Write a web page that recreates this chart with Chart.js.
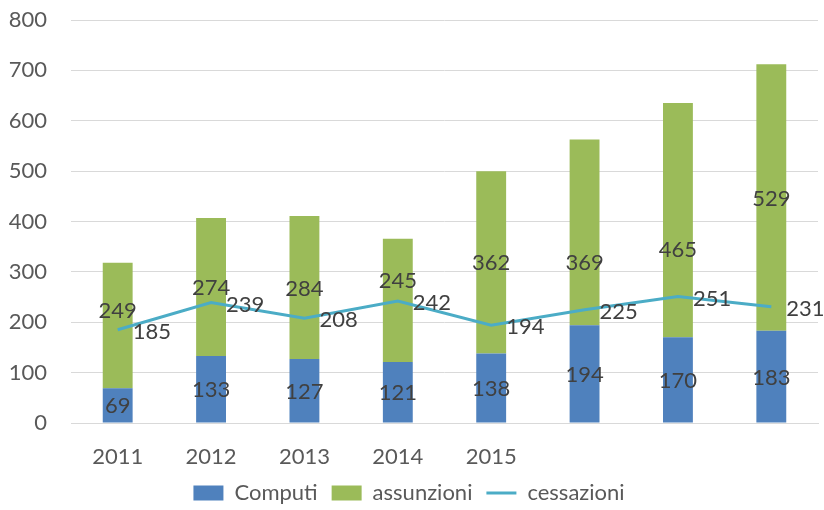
<!DOCTYPE html>
<html>
<head>
<meta charset="utf-8">
<script src="https://cdn.jsdelivr.net/npm/chart.js@4"></script>
<style>
  html, body { margin: 0; padding: 0; background: #fff; }
  #wrap { width: 824px; height: 510px; }
</style>
</head>
<body>
<div id="wrap"><canvas id="chart" width="824" height="510"></canvas></div>
<script>
// Values
const categories = ['2011', '2012', '2013', '2014', '2015', '', '', ''];
const computi = [69, 133, 127, 121, 138, 194, 170, 183];
const assunzioni = [249, 274, 284, 245, 362, 369, 465, 529];
const cessazioni = [185, 239, 208, 242, 194, 225, 251, 231];
const yTicks = [0, 100, 200, 300, 400, 500, 600, 700, 800];

const FONT = 'Lato, "Open Sans", sans-serif';

// Draw the value labels (no datalabels plugin available offline)
const valueLabels = {
    id: 'valueLabels',
    afterDatasetsDraw(chart, args, opts) {
        const ctx = chart.ctx;
        ctx.save();
        ctx.font = '22px ' + FONT;
        ctx.fillStyle = '#404040';
        ctx.textBaseline = 'middle';
        chart.data.datasets.forEach((ds, i) => {
            const meta = chart.getDatasetMeta(i);
            const nudge = (opts.nudge && opts.nudge[i]) || [];
            meta.data.forEach((el, j) => {
                const txt = String(ds.data[j]);
                if (ds.type === 'line') {
                    ctx.textAlign = 'left';
                    ctx.fillText(txt, el.x + 15, el.y + 2);
                } else {
                    ctx.textAlign = 'center';
                    ctx.fillText(txt, el.x, (el.y + el.base) / 2 + 1 + (nudge[j] || 0));
                }
            });
        });
        ctx.restore();
    }
};

// Keep legend spacing between items but make its box shorter
const legendHeight = {
    id: 'legendHeight',
    beforeLayout(chart) {
        const lg = chart.legend;
        if (lg && !lg._fixed) {
            const fit = lg.fit;
            lg.fit = function() { fit.call(this); this.height = 42; };
            lg._fixed = true;
        }
    }
};

new Chart(document.getElementById('chart'), {
    data: {
        labels: categories,
        datasets: [
            {
                type: 'bar',
                label: 'Computi',
                data: computi,
                backgroundColor: '#4f81bd',
                borderWidth: 0,
                pointStyle: 'rect',
                stack: 's',
                order: 1
            },
            {
                type: 'bar',
                label: 'assunzioni',
                data: assunzioni,
                backgroundColor: '#9bbb59',
                borderWidth: 0,
                pointStyle: 'rect',
                stack: 's',
                order: 1
            },
            {
                type: 'line',
                label: 'cessazioni',
                data: cessazioni,
                borderColor: '#4bacc6',
                backgroundColor: '#4bacc6',
                borderWidth: 3,
                pointRadius: 0,
                pointStyle: 'line',
                tension: 0,
                order: 0
            }
        ]
    },
    options: {
        responsive: false,
        animation: false,
        layout: { padding: { top: 20, right: 6, left: 0, bottom: 0 } },
        datasets: {
            bar: { categoryPercentage: 1, barPercentage: 0.32 }
        },
        scales: {
            x: {
                stacked: true,
                afterFit(scale) { scale.height = 45; },
                grid: { display: false, drawTicks: false },
                border: { display: true, color: '#d9d9d9', width: 1 },
                ticks: { color: '#595959', font: { family: FONT, size: 22 }, padding: 21, maxRotation: 0, autoSkip: false }
            },
            y: {
                stacked: true,
                min: 0,
                max: 800,
                afterBuildTicks(scale) { scale.ticks = yTicks.map(v => ({ value: v })); },
                afterFit(scale) {
                    scale.width = 71;
                    scale.paddingTop = 0;
                    scale.paddingBottom = 0;
                },
                grid: { color: '#d9d9d9', lineWidth: 1, drawTicks: false },
                border: { display: false },
                ticks: { color: '#595959', font: { family: FONT, size: 22 }, padding: 24 }
            }
        },
        plugins: {
            legend: {
                position: 'bottom',
                labels: {
                    sort: (a, b) => a.datasetIndex - b.datasetIndex,
                    usePointStyle: true,
                    pointStyleWidth: 30,
                    boxHeight: 15,
                    color: '#595959',
                    font: { family: FONT, size: 22 },
                    padding: 14
                }
            },
            valueLabels: {
                // manual label shifts (px) for the green segment, as in the original
                nudge: { 1: [-16, 0, 0, -20, 0, 30, 29, 0] }
            },
            tooltip: { enabled: false }
        }
    },
    plugins: [valueLabels, legendHeight]
});
</script>
</body>
</html>
